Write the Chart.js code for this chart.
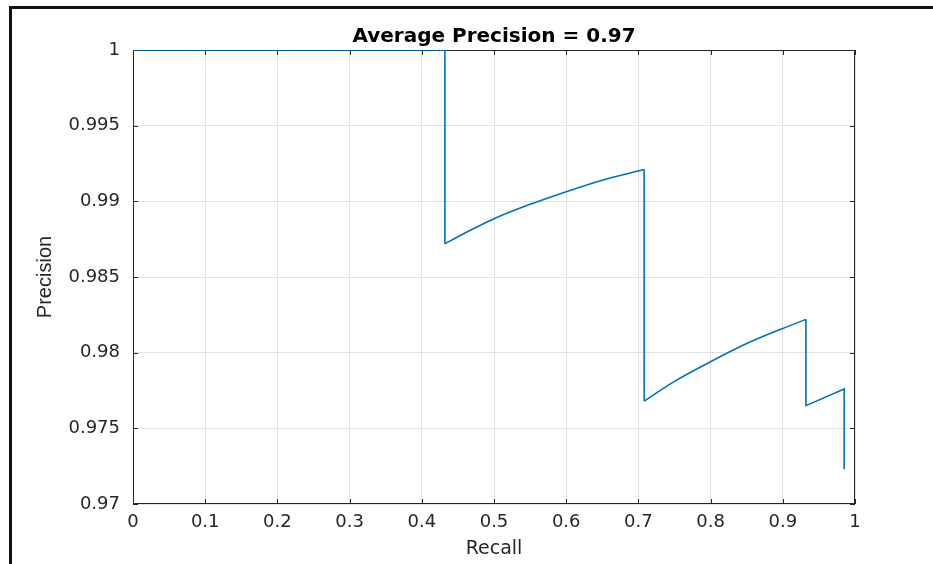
<!DOCTYPE html>
<html>
<head>
<meta charset="utf-8">
<script src="https://cdn.jsdelivr.net/npm/chart.js@4/dist/chart.umd.min.js"></script>
<style>
  body{margin:0;background:#fff;}
  #wrap{position:relative;width:933px;height:564px;}
  #frame{position:absolute;left:9px;top:6px;right:0;bottom:0;border-left:3px solid #111;border-top:3px solid #111;pointer-events:none;}
</style>
</head>
<body>
<div id="wrap">
  <canvas id="chart" width="933" height="564"></canvas>
  <div id="frame"></div>
</div>
<script>
// precision-recall curve
// straight parts: flat top and the vertical drops
const stepRecall    = [0, 0.432, 0.432, null, 0.708, 0.708, null, 0.932, 0.932, 0.985, 0.985];
const stepPrecision = [1, 1, 0.9872, null, 0.9921, 0.9768, null, 0.9822, 0.9765, 0.9776, 0.9723];
// curved parts between the drops
const seg1Recall    = [0.432, 0.45, 0.47, 0.50, 0.55, 0.60, 0.65, 0.708];
const seg1Precision = [0.9872, 0.98766, 0.98815, 0.98885, 0.9898, 0.99064, 0.9914, 0.9921];
const seg2Recall    = [0.708, 0.75, 0.80, 0.85, 0.90, 0.932];
const seg2Precision = [0.9768, 0.9781, 0.9794, 0.9806, 0.9816, 0.9822];

const xTicks = [0,0.1,0.2,0.3,0.4,0.5,0.6,0.7,0.8,0.9,1];
const xTickLabels = ["0","0.1","0.2","0.3","0.4","0.5","0.6","0.7","0.8","0.9","1"];
const yTicks = [0.97,0.975,0.98,0.985,0.99,0.995,1];
const yTickLabels = ["0.97","0.975","0.98","0.985","0.99","0.995","1"];

const titleText = "Average Precision = 0.97";
const AXIS = "#262626";
const BLUE = "#0072BD";

const pts = (xs, ys) => xs.map((x,i)=> x===null ? {x:null,y:null} : ({x, y:ys[i]}));
const lineDs = (data, mode) => ({
  data, borderColor:BLUE, borderWidth:1.6, pointRadius:0,
  tension: mode ? 0.4 : 0, cubicInterpolationMode: mode || "default",
  spanGaps:false, fill:false
});

// matlab style box with inward ticks
const boxPlugin = {
  id:"box",
  beforeDatasetsDraw(c){
    const {ctx, chartArea:a, scales} = c;
    ctx.save();
    ctx.strokeStyle = AXIS;
    ctx.lineWidth = 1;
    ctx.strokeRect(Math.round(a.left)+0.5, Math.round(a.top)+0.5, Math.round(a.right-a.left)-1, Math.round(a.bottom-a.top)-1);
    ctx.beginPath();
    const L = 5;
    xTicks.forEach(v=>{
      const x = Math.round(scales.x.getPixelForValue(v))+0.5;
      ctx.moveTo(x, a.bottom); ctx.lineTo(x, a.bottom-L);
      ctx.moveTo(x, a.top); ctx.lineTo(x, a.top+L);
    });
    yTicks.forEach(v=>{
      const y = Math.round(scales.y.getPixelForValue(v))+0.5;
      ctx.moveTo(a.left, y); ctx.lineTo(a.left+L, y);
      ctx.moveTo(a.right, y); ctx.lineTo(a.right-L, y);
    });
    ctx.stroke();
    ctx.restore();
  }
};

new Chart(document.getElementById("chart"),{
  type:"line",
  data:{
    datasets:[
      lineDs(pts(stepRecall, stepPrecision)),
      lineDs(pts(seg1Recall, seg1Precision), "monotone"),
      lineDs(pts(seg2Recall, seg2Precision), "monotone")
    ]
  },
  options:{
    responsive:false,
    animation:false,
    layout:{padding:{left:0, top:0, right:78, bottom:0}},
    plugins:{
      legend:{display:false},
      tooltip:{enabled:false},
      title:{
        display:true, text:titleText, fullSize:false, color:"#000",
        font:{family:"DejaVu Sans", size:20, weight:"bold"},
        padding:{top:25, bottom:1}
      }
    },
    scales:{
      x:{
        type:"linear", min:0, max:1,
        afterBuildTicks:s=>{ s.ticks = xTicks.map(v=>({value:v})); },
        afterFit:s=>{ s.height = 60; },
        ticks:{
          callback:(v,i)=>xTickLabels[i],
          color:AXIS, padding:8, maxRotation:0,
          font:{family:"DejaVu Sans", size:18}
        },
        grid:{color:"#e2e2e2", lineWidth:1, drawTicks:false},
        border:{display:false},
        title:{display:true, text:"Recall", color:AXIS, padding:{top:0,bottom:4},
          font:{family:"DejaVu Sans", size:19}}
      },
      y:{
        type:"linear", min:0.97, max:1,
        afterBuildTicks:s=>{ s.ticks = yTicks.map(v=>({value:v})); },
        afterFit:s=>{ s.width = 133; },
        ticks:{
          callback:(v,i)=>yTickLabels[i],
          color:AXIS, padding:13,
          font:{family:"DejaVu Sans", size:18}
        },
        grid:{color:"#e2e2e2", lineWidth:1, drawTicks:false},
        border:{display:false},
        title:{display:true, text:"Precision", color:AXIS, padding:{top:33,bottom:0},
          font:{family:"Liberation Sans", size:20}}
      }
    }
  },
  plugins:[boxPlugin]
});
</script>
</body>
</html>
